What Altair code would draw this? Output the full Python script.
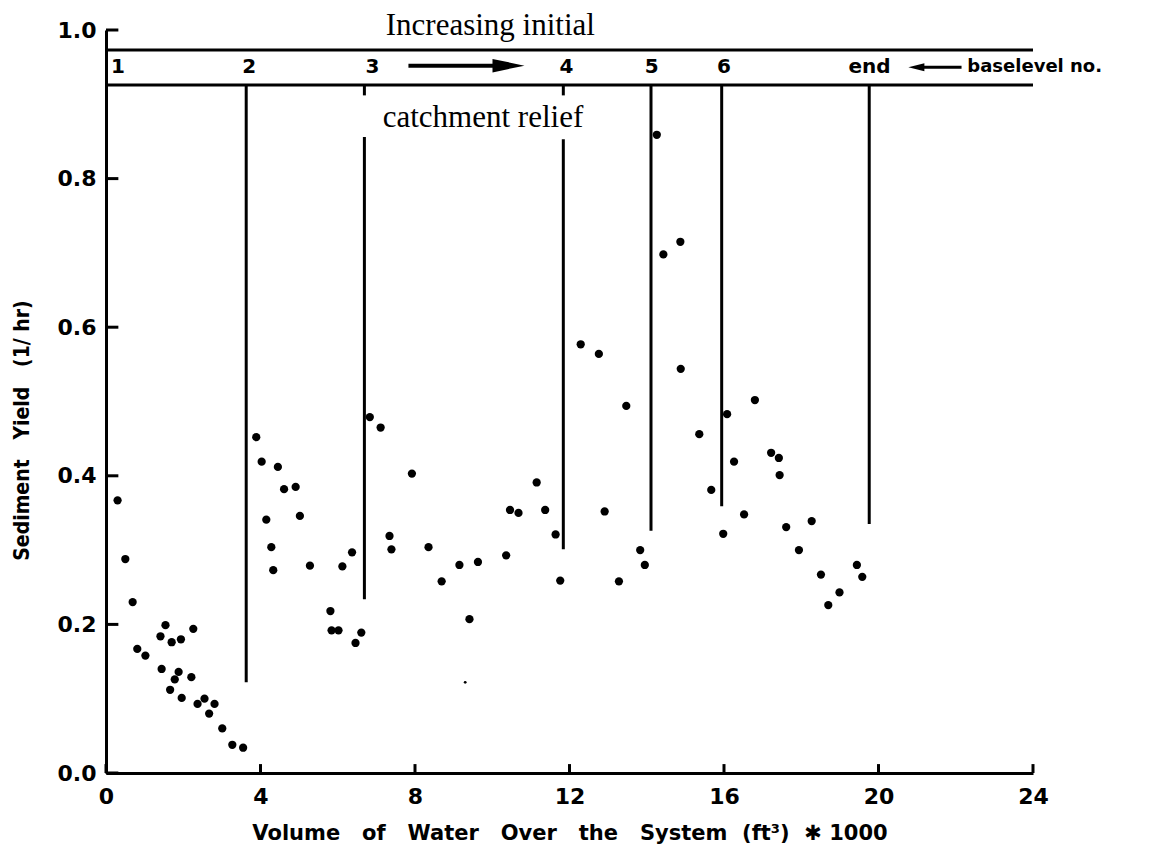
import altair as alt
import pandas as pd

# ---- data ----
pt_x = [0.30, 0.50, 0.69, 0.81, 1.02, 1.41, 1.54, 1.70, 1.94, 2.26, 1.44, 1.88, 1.78, 1.66, 2.21, 1.96, 2.37, 2.55, 2.67, 2.81, 3.01, 3.27, 3.55,
        3.89, 4.03, 4.45, 4.61, 4.91, 4.15, 5.02, 4.28, 4.33, 5.28, 5.81, 5.84, 6.02, 6.12, 6.37, 6.46, 6.61,
        6.83, 7.11, 7.34, 7.39, 7.92, 8.35, 8.69, 9.15, 9.41, 9.63, 10.36, 10.46, 10.68, 11.15, 11.37, 11.64, 11.76,
        12.29, 12.76, 12.91, 13.28, 13.47, 13.83, 13.95,
        14.26, 14.43, 14.87, 14.88, 15.36, 15.67,
        16.08, 16.80, 16.26, 16.52, 15.98, 17.22, 17.42, 17.44, 17.61, 18.27, 17.94, 18.51, 18.99, 18.70, 19.44, 19.58]
pt_y = [0.367, 0.288, 0.230, 0.167, 0.158, 0.184, 0.199, 0.176, 0.180, 0.194, 0.140, 0.136, 0.126, 0.112, 0.129, 0.101, 0.093, 0.100, 0.080, 0.093, 0.060, 0.038, 0.034,
        0.452, 0.419, 0.412, 0.382, 0.385, 0.341, 0.346, 0.304, 0.273, 0.279, 0.218, 0.192, 0.192, 0.278, 0.297, 0.175, 0.189,
        0.479, 0.465, 0.319, 0.301, 0.403, 0.304, 0.258, 0.280, 0.207, 0.284, 0.293, 0.354, 0.350, 0.391, 0.354, 0.321, 0.259,
        0.577, 0.564, 0.352, 0.258, 0.494, 0.300, 0.280,
        0.859, 0.698, 0.715, 0.544, 0.456, 0.381,
        0.483, 0.502, 0.419, 0.348, 0.322, 0.431, 0.424, 0.401, 0.331, 0.339, 0.300, 0.267, 0.243, 0.226, 0.280, 0.264]
faint_x = [9.30]
faint_y = [0.122]

# baselevel dividers
div_x = [3.63, 6.69, 11.84, 14.11, 15.94, 19.76]
div_top = [0.926, 0.856, 0.853, 0.926, 0.926, 0.926]
div_bottom = [0.122, 0.234, 0.301, 0.326, 0.359, 0.335]
stub_x = [6.69, 11.84]
stub_top = [0.926, 0.926]
stub_bottom = [0.912, 0.912]

# baselevel box
box_y = [0.973, 0.926]
box_x0 = [0.0, 0.0]
box_x1 = [24.0, 24.0]
level_labels = ["1", "2", "3", "4", "5", "6", "end"]
level_x = [0.31, 3.71, 6.90, 11.92, 14.13, 16.0, 19.77]
level_y = [0.950] * 7

x_ticks = [0, 4, 8, 12, 16, 20, 24]
y_ticks = [0.0, 0.2, 0.4, 0.6, 0.8, 1.0]

assert len(pt_x) == len(pt_y)

S = "\u00a0"
x_title = f"Volume{S*3}of{S*3}Water{S*3}Over{S*3}the{S*3}System{S*2}(ft³){S*2}✱{S}1000"
y_title = f"Sediment{S*3}Yield{S*3}(1/{S}hr)"

xscale = alt.Scale(domain=[0, 24], nice=False, zero=False)
yscale = alt.Scale(domain=[0, 1.0], nice=False, zero=False)
xaxis = alt.Axis(values=x_ticks, format="d", title=x_title, labelFlush=False,
                 titleY=60, titleBaseline="middle", labelPadding=13, titleFontSize=21)
yaxis = alt.Axis(values=y_ticks, format=".1f", title=y_title, titleAngle=270, labelFlush=False,
                 titleX=-84, titleY=400, titleBaseline="middle", titleAlign="center",
                 titleFont="DejaVu Sans Condensed", titleFontSize=21,
                 labelPadding=10)
X = lambda f="x": alt.X(f + ":Q", scale=xscale, axis=xaxis)
Y = lambda f="y": alt.Y(f + ":Q", scale=yscale, axis=yaxis)

pts = pd.DataFrame({"x": pt_x, "y": pt_y})
faint = pd.DataFrame({"x": faint_x, "y": faint_y})
divs = pd.DataFrame({"x": div_x + stub_x, "y": div_top + stub_top, "y2": div_bottom + stub_bottom})
box = pd.DataFrame({"x": box_x0, "x2": box_x1, "y": box_y})
lev = pd.DataFrame({"x": level_x, "y": level_y, "t": level_labels})
yt = pd.DataFrame({"x": [0.0] * len(y_ticks), "x2": [0.32] * len(y_ticks), "y": y_ticks})
xt = pd.DataFrame({"x": x_ticks, "y": [0.0] * len(x_ticks), "y2": [0.012] * len(x_ticks)})

points = alt.Chart(pts).mark_circle(size=68, color="black", opacity=1).encode(x=X(), y=Y())
faint_pts = alt.Chart(faint).mark_circle(size=8, color="black", opacity=1).encode(x=X(), y=Y())
div_rules = alt.Chart(divs).mark_rule(color="black", strokeWidth=3).encode(x=X(), y=Y(), y2=alt.Y2("y2:Q"))
box_rules = alt.Chart(box).mark_rule(color="black", strokeWidth=3).encode(x=X(), x2=alt.X2("x2:Q"), y=Y())
level_text = alt.Chart(lev).mark_text(font="DejaVu Sans", fontWeight="bold", fontSize=20,
                                      color="black", baseline="middle").encode(x=X(), y=Y(), text="t:N")
ytick_rules = alt.Chart(yt).mark_rule(color="black", strokeWidth=3).encode(x=X(), x2=alt.X2("x2:Q"), y=Y())
xtick_rules = alt.Chart(xt).mark_rule(color="black", strokeWidth=3).encode(x=X(), y=Y(), y2=alt.Y2("y2:Q"))

# annotations
ann = pd.DataFrame({"x": [9.95, 9.76], "y": [0.993, 0.870], "t": ["Increasing initial", "catchment relief"]})
ann_text = alt.Chart(ann).mark_text(font="Liberation Serif", fontSize=31, color="black",
                                    baseline="alphabetic").encode(x=X(), y=Y(), text="t:N")
arrow_shaft = alt.Chart(pd.DataFrame({"x": [7.83], "x2": [10.1], "y": [0.952]})).mark_rule(
    color="black", strokeWidth=4).encode(x=X(), x2=alt.X2("x2:Q"), y=Y())
arrow_head = alt.Chart(pd.DataFrame({"x": [10.42], "y": [0.952]})).mark_point(
    shape="M-1,-0.42L1,0L-1,0.42Z", filled=True, size=1024, color="black", opacity=1).encode(x=X(), y=Y())
small_shaft = alt.Chart(pd.DataFrame({"x": [21.05], "x2": [22.15], "y": [0.950]})).mark_rule(
    color="black", strokeWidth=3).encode(x=X(), x2=alt.X2("x2:Q"), y=Y())
small_head = alt.Chart(pd.DataFrame({"x": [20.98], "y": [0.950]})).mark_point(
    shape="M1,-0.5L-1,0L1,0.5Z", filled=True, size=256, color="black", opacity=1).encode(x=X(), y=Y())
bl_text = alt.Chart(pd.DataFrame({"x": [22.3], "y": [0.950], "t": ["baselevel no."]})).mark_text(
    font="DejaVu Sans", fontWeight="bold", fontSize=18, color="black", align="left",
    baseline="middle").encode(x=X(), y=Y(), text="t:N")

chart = alt.layer(
    div_rules, box_rules, ytick_rules, xtick_rules, points, faint_pts, level_text,
    ann_text, arrow_shaft, arrow_head, small_shaft, small_head, bl_text
).properties(
    width=927, height=743,
    autosize=alt.AutoSizeParams(type="none"),
    padding={"left": 98, "top": 22, "right": 100, "bottom": 78},
).configure_view(stroke=None).configure_axis(
    grid=False, ticks=False, domainColor="black", domainWidth=3,
    labelFont="DejaVu Sans", labelFontWeight="bold", labelFontSize=22, labelColor="black",
    titleFont="DejaVu Sans", titleFontWeight="bold", titleFontSize=19, titleColor="black",
)

chart.save("out.html", embed_options={"renderer": "svg", "actions": False})
